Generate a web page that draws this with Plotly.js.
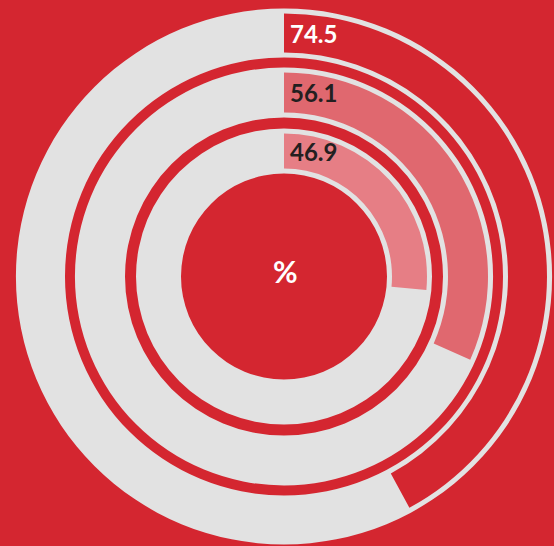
<!DOCTYPE html>
<html>
<head>
<meta charset="utf-8">
<script src="https://cdn.plot.ly/plotly-3.0.1.min.js"></script>
<style>
  html, body { margin: 0; padding: 0; background: #d42630; }
  #chart { width: 554px; height: 546px; }
</style>
</head>
<body>
<div id="chart"></div>
<script>
// ---- data ----
const values = [74.5, 56.1, 46.9];
const scaleMax = 177;            // value that corresponds to a full circle
const centerLabel = '%';
const barColors = ['#d42630', '#e0686f', '#e67e85'];
const labelColors = ['#ffffff', '#231f20', '#231f20'];

// ---- layout constants ----
const W = 554, H = 546;
const CX = 284, CY = 276.5;
const BG = '#d42630';
const TRACK = '#e2e2e2';
const rings = [ {r0: 219, r1: 268}, {r0: 159, r1: 209}, {r0: 103, r1: 148} ];
const INSET = 5;

function domainFor(R) {
  return {
    x: [(CX - R) / W, (CX + R) / W],
    y: [((H - CY) - R) / H, ((H - CY) + R) / H]
  };
}

const traces = [];
// gray tracks
rings.forEach(rg => {
  traces.push({
    type: 'pie', values: [1], labels: ['track'],
    domain: domainFor(rg.r1), hole: rg.r0 / rg.r1,
    marker: { colors: [TRACK], line: { width: 0 } },
    textinfo: 'none', hoverinfo: 'none', sort: false, showlegend: false
  });
});
// value bars
values.forEach((v, i) => {
  const rg = rings[i];
  const b0 = rg.r0 + INSET, b1 = rg.r1 - INSET;
  traces.push({
    type: 'pie', values: [v, scaleMax - v], labels: ['value', 'rest'],
    domain: domainFor(b1), hole: b0 / b1,
    marker: { colors: [barColors[i], 'rgba(0,0,0,0)'], line: { width: 0 } },
    direction: 'clockwise', rotation: 0, sort: false,
    textinfo: 'none', hoverinfo: 'none', showlegend: false
  });
});

const annotations = values.map((v, i) => {
  const rg = rings[i];
  const rMid = (rg.r0 + rg.r1) / 2;
  return {
    xref: 'paper', yref: 'paper',
    x: (CX + 3.5) / W, y: (H - (CY - rMid)) / H,
    xanchor: 'left', yanchor: 'middle',
    text: v.toFixed(1), showarrow: false,
    font: { family: 'Lato', size: 24, weight: 700, color: labelColors[i] }
  };
});
annotations.push({
  xref: 'paper', yref: 'paper',
  x: (CX + 1.5) / W, y: (H - 270.5) / H,
  xanchor: 'center', yanchor: 'middle',
  text: centerLabel, showarrow: false,
  font: { family: 'Lato', size: 30, weight: 700, color: '#ffffff' }
});

Plotly.newPlot('chart', traces, {
  width: W, height: H,
  margin: { l: 0, r: 0, t: 0, b: 0, pad: 0 },
  paper_bgcolor: BG, plot_bgcolor: BG,
  showlegend: false,
  annotations: annotations
}, { displayModeBar: false, staticPlot: true });
</script>
</body>
</html>
